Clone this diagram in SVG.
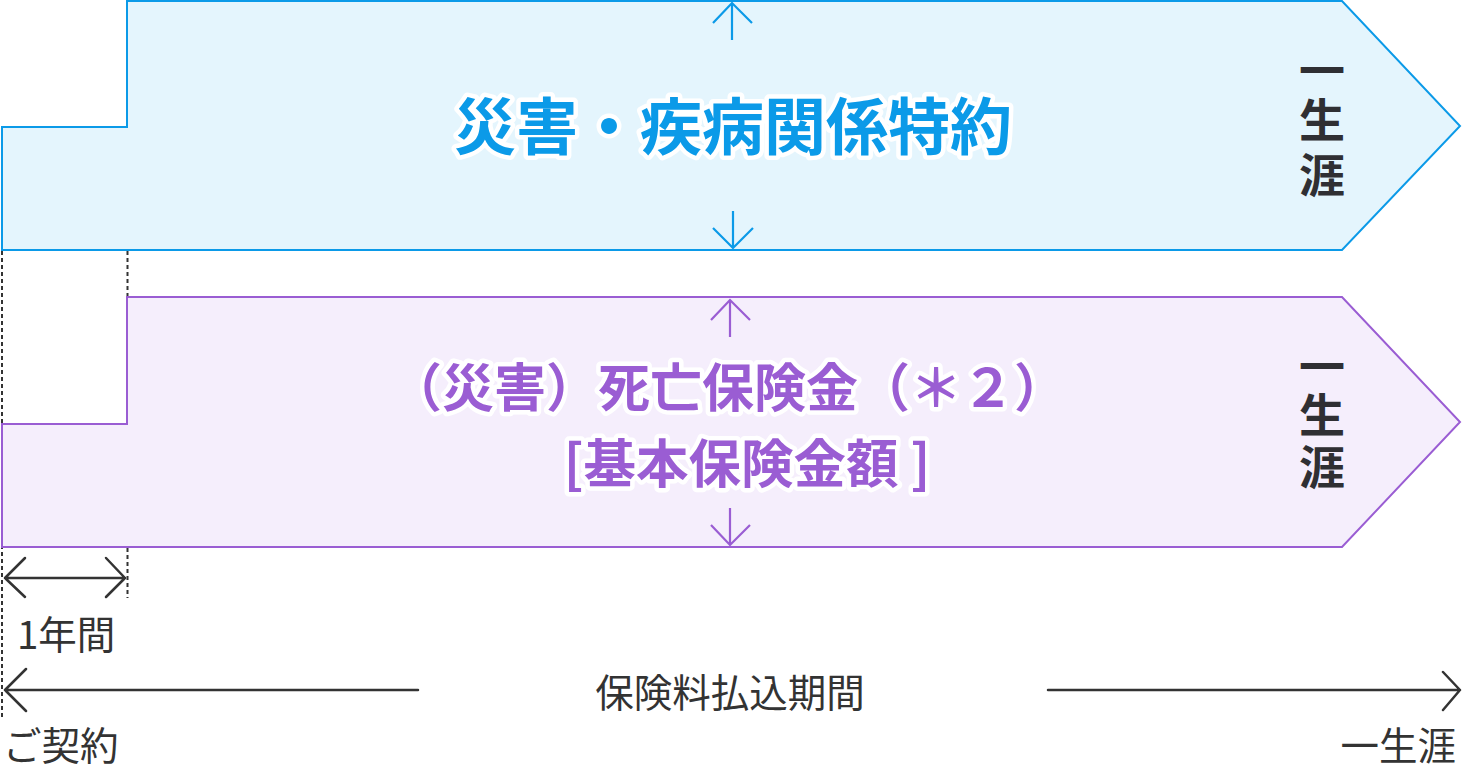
<svg xmlns="http://www.w3.org/2000/svg" width="1462" height="773" viewBox="0 0 1462 773">
<style>
.jp{font-family:"Noto Sans CJK JP","Noto Sans CJK SC",sans-serif}
.title{font-weight:700;stroke:#ffffff;stroke-width:9;stroke-linejoin:round;paint-order:stroke fill}
.blue{fill:#0b9ae8}
.purple{fill:#9a5dd3}
.life{font-weight:700;fill:#2f2f33;font-size:46px}
.lbl{fill:#333333;font-size:38.5px}
.dash{stroke:#333;stroke-width:2;stroke-dasharray:4 3;fill:none}
.arr{fill:none;stroke:#333;stroke-width:2.5;stroke-linecap:round;stroke-linejoin:round}
.barr{fill:none;stroke:#0b9ae8;stroke-width:2.2}
.parr{fill:none;stroke:#9a5dd3;stroke-width:2.2}
</style>
<g id="guides">
<line class="dash" x1="2" y1="251" x2="2" y2="720"/>
<line class="dash" x1="127.5" y1="251" x2="127.5" y2="297"/>
<line class="dash" x1="127.5" y1="548" x2="127.5" y2="598"/>
</g>
<g id="rider">
<polygon points="2,127 127,127 127,1 1342,1 1460,126 1342,250 2,250" fill="#e4f5fd" stroke="#0b9ae8" stroke-width="2"/>
<path class="barr" d="M732,40 V3 M713,23 L732,3 L752,23"/>
<path class="barr" d="M733,211 V248 M713,228 L733,248 L753,228"/>
<text class="jp title blue" x="733" y="150" font-size="62" text-anchor="middle">災害・疾病関係特約</text>
<text class="jp life" text-anchor="middle"><tspan x="1322" y="87">一</tspan><tspan x="1322" y="137">生</tspan><tspan x="1322" y="192">涯</tspan></text>
</g>
<g id="death">
<polygon points="2,424 127,424 127,297 1342,297 1460,422 1342,547 2,547" fill="#f5eefc" stroke="#9a5dd3" stroke-width="2"/>
<path class="parr" d="M730,337 V300 M711,320 L730,300 L750,320"/>
<path class="parr" d="M730,508 V545 M711,525 L730,545 L750,525"/>
<text class="jp title purple" x="728" y="407" font-size="52" text-anchor="middle">（災害）死亡保険金（＊２）</text>
<text class="jp title purple" x="747" y="483" font-size="52.5" text-anchor="middle">[基本保険金額 ]</text>
<text class="jp life" text-anchor="middle"><tspan x="1322" y="383">一</tspan><tspan x="1322" y="432">生</tspan><tspan x="1322" y="484">涯</tspan></text>
</g>
<g id="connectors">
<path class="arr" d="M5,578 H125 M25,558 L5,578 L25,597 M106,558 L125,578 L106,597"/>
<path class="arr" d="M5,690 H418 M26,669 L5,690 L26,711"/>
<path class="arr" d="M1048,690 H1460 M1443,672 L1460,690 L1443,710"/>
</g>
<g id="labels">
<text class="jp lbl" x="17" y="649">1年間</text>
<text class="jp lbl" x="730" y="707" text-anchor="middle">保険料払込期間</text>
<text class="jp lbl" x="3" y="760" font-size="37">ご契約</text>
<text class="jp lbl" x="1456" y="760" text-anchor="end">一生涯</text>
</g>
</svg>
